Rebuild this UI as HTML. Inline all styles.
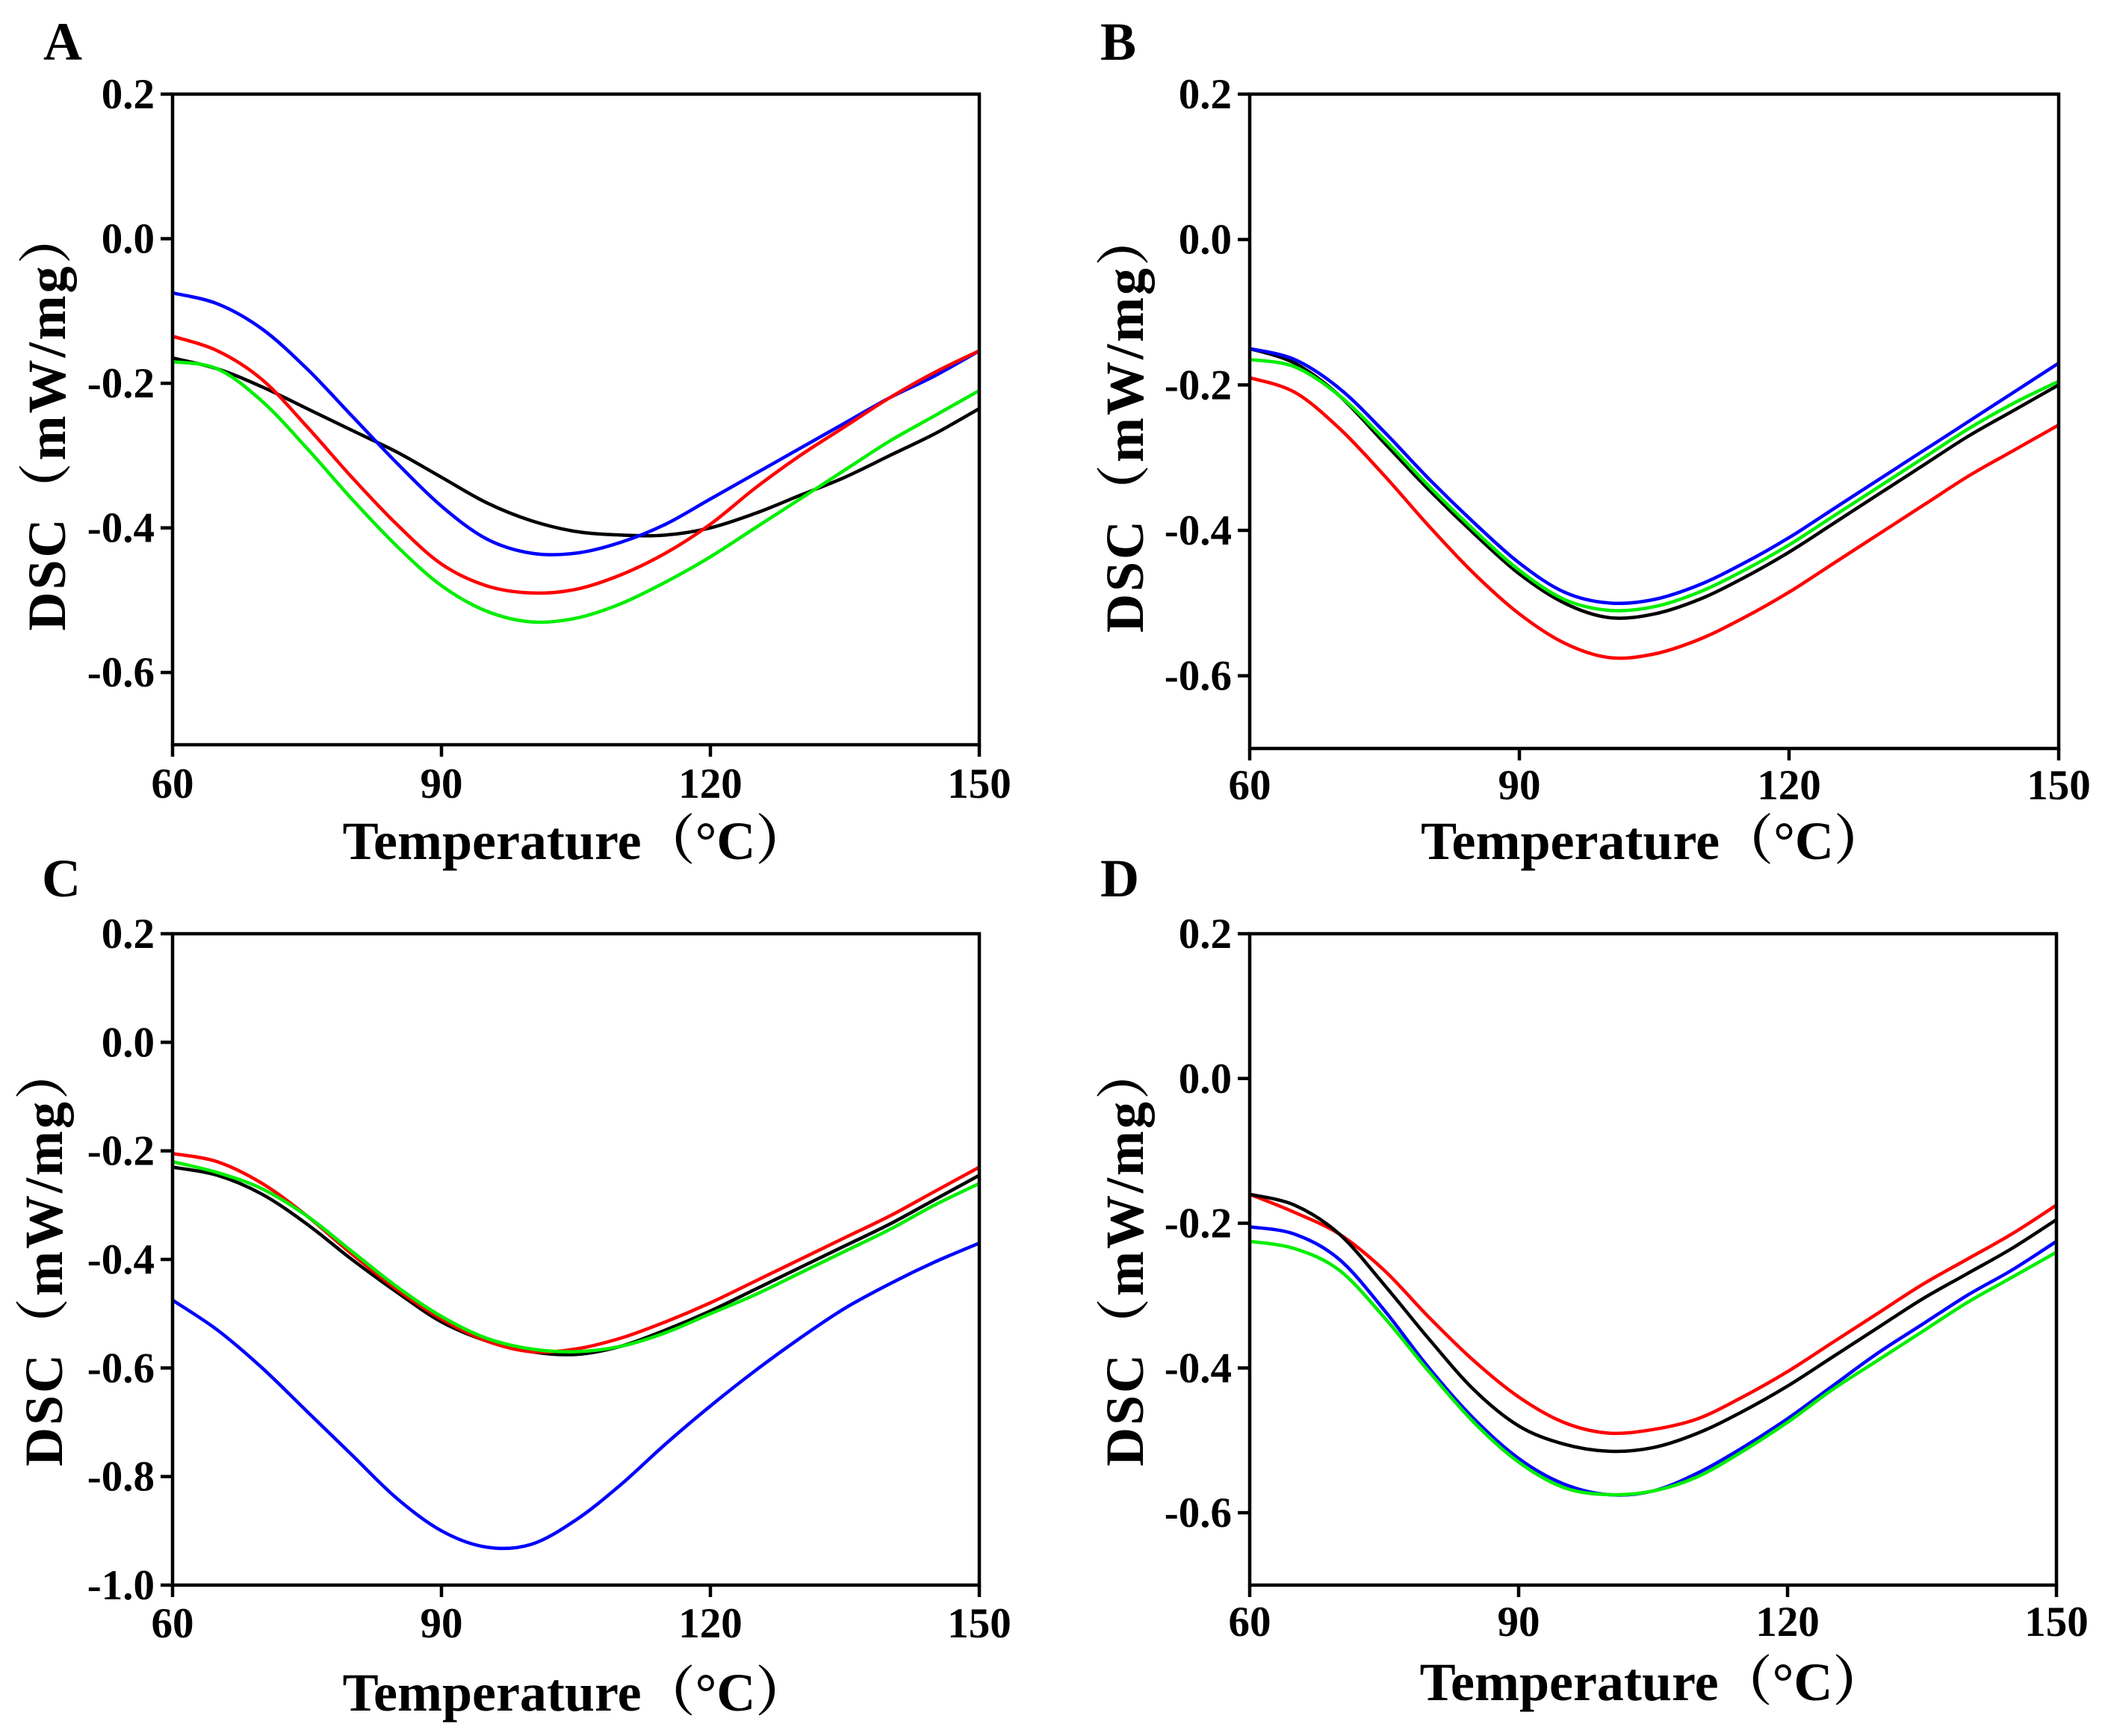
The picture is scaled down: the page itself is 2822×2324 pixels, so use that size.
<!DOCTYPE html>
<html><head><meta charset="utf-8">
<style>
html,body{margin:0;padding:0;background:#fff;}
svg{display:block;}
text{font-family:"Liberation Serif","Noto Serif CJK SC",serif;font-weight:bold;fill:#000;}
</style></head>
<body>
<svg id="fig" width="2822" height="2324" viewBox="0 0 2822 2324" xmlns="http://www.w3.org/2000/svg"></svg>
<script>
const temps = [60,65,70,75,80,85,90,95,100,105,110,115,120,125,130,135,140,145,150];
const xTicks = [60,90,120,150];
const yTicksABD = [0.2,0.0,-0.2,-0.4,-0.6];
const yTicksC = [0.2,0.0,-0.2,-0.4,-0.6,-0.8,-1.0];

const A_black = [-0.165,-0.18,-0.205,-0.235,-0.265,-0.295,-0.33,-0.365,-0.39,-0.405,-0.41,-0.41,-0.40,-0.38,-0.355,-0.33,-0.30,-0.27,-0.235];
const A_blue  = [-0.075,-0.09,-0.125,-0.18,-0.245,-0.31,-0.37,-0.415,-0.435,-0.435,-0.42,-0.395,-0.36,-0.325,-0.29,-0.255,-0.22,-0.19,-0.155];
const A_red   = [-0.135,-0.155,-0.195,-0.26,-0.33,-0.395,-0.45,-0.48,-0.49,-0.485,-0.465,-0.435,-0.395,-0.345,-0.30,-0.26,-0.22,-0.185,-0.155];
const A_green = [-0.17,-0.18,-0.225,-0.29,-0.36,-0.425,-0.48,-0.515,-0.53,-0.525,-0.505,-0.475,-0.44,-0.40,-0.36,-0.32,-0.28,-0.245,-0.21];

const B_blue  = [-0.15,-0.165,-0.205,-0.265,-0.33,-0.39,-0.445,-0.485,-0.50,-0.495,-0.475,-0.445,-0.41,-0.37,-0.33,-0.29,-0.25,-0.21,-0.17];
const B_black = [-0.15,-0.17,-0.215,-0.28,-0.345,-0.405,-0.46,-0.50,-0.52,-0.515,-0.495,-0.465,-0.43,-0.39,-0.35,-0.31,-0.27,-0.235,-0.20];
const B_green = [-0.165,-0.175,-0.215,-0.275,-0.34,-0.40,-0.455,-0.495,-0.51,-0.505,-0.485,-0.455,-0.42,-0.38,-0.34,-0.30,-0.26,-0.225,-0.195];
const B_red   = [-0.19,-0.21,-0.26,-0.325,-0.395,-0.46,-0.515,-0.555,-0.575,-0.57,-0.55,-0.52,-0.485,-0.445,-0.405,-0.365,-0.325,-0.29,-0.255];

const C_blue  = [-0.475,-0.53,-0.60,-0.68,-0.76,-0.84,-0.90,-0.93,-0.925,-0.88,-0.815,-0.74,-0.67,-0.605,-0.545,-0.49,-0.445,-0.405,-0.37];
const C_black = [-0.23,-0.245,-0.28,-0.335,-0.40,-0.46,-0.515,-0.55,-0.57,-0.575,-0.56,-0.53,-0.495,-0.455,-0.415,-0.375,-0.335,-0.29,-0.245];
const C_green = [-0.22,-0.24,-0.27,-0.32,-0.385,-0.45,-0.505,-0.545,-0.565,-0.57,-0.56,-0.535,-0.50,-0.465,-0.425,-0.385,-0.345,-0.30,-0.26];
const C_red   = [-0.205,-0.22,-0.26,-0.32,-0.39,-0.455,-0.51,-0.55,-0.57,-0.565,-0.545,-0.515,-0.48,-0.44,-0.40,-0.36,-0.32,-0.275,-0.23];

const D_blue  = [-0.205,-0.215,-0.25,-0.32,-0.40,-0.47,-0.525,-0.56,-0.575,-0.57,-0.545,-0.51,-0.47,-0.425,-0.38,-0.34,-0.30,-0.265,-0.225];
const D_green = [-0.225,-0.235,-0.265,-0.33,-0.405,-0.475,-0.53,-0.565,-0.575,-0.57,-0.55,-0.515,-0.475,-0.43,-0.39,-0.35,-0.31,-0.275,-0.24];
const D_black = [-0.16,-0.175,-0.215,-0.285,-0.36,-0.43,-0.48,-0.505,-0.515,-0.51,-0.49,-0.46,-0.425,-0.385,-0.345,-0.305,-0.27,-0.235,-0.195];
const D_red   = [-0.16,-0.185,-0.215,-0.265,-0.33,-0.39,-0.44,-0.475,-0.49,-0.485,-0.47,-0.44,-0.405,-0.365,-0.325,-0.285,-0.25,-0.215,-0.175];

const NS = "http://www.w3.org/2000/svg";
const svg = document.getElementById('fig');
function mk(tag, attrs, parent){
  const e = document.createElementNS(NS, tag);
  for (const k in attrs) e.setAttribute(k, attrs[k]);
  (parent||svg).appendChild(e);
  return e;
}
function smoothPath(pts){
  let d = "M" + pts[0][0].toFixed(1) + "," + pts[0][1].toFixed(1);
  for (let i=0;i<pts.length-1;i++){
    const p0 = pts[Math.max(0,i-1)], p1 = pts[i], p2 = pts[i+1], p3 = pts[Math.min(pts.length-1,i+2)];
    const c1x = p1[0]+(p2[0]-p0[0])/6, c1y = p1[1]+(p2[1]-p0[1])/6;
    const c2x = p2[0]-(p3[0]-p1[0])/6, c2y = p2[1]-(p3[1]-p1[1])/6;
    d += " C"+c1x.toFixed(1)+","+c1y.toFixed(1)+" "+c2x.toFixed(1)+","+c2y.toFixed(1)+" "+p2[0].toFixed(1)+","+p2[1].toFixed(1);
  }
  return d;
}
const panels = [
  {id:'a', letter:'A', L:231, R:1311, T:126, B:997, ymax:0.2, ymin:-0.7, yt:yTicksABD, lx:58, ly:80, xlabY:1068, titleY:1150, ytx:62,
   series:[['black',A_black,'#000000'],['blue',A_blue,'#0000ff'],['red',A_red,'#ff0000'],['green',A_green,'#00ee00']]},
  {id:'b', letter:'B', L:1673, R:2756, T:126, B:1002, ymax:0.2, ymin:-0.7, yt:yTicksABD, lx:1473, ly:80, xlabY:1070, titleY:1150, ytx:1505,
   series:[['red',B_red,'#ff0000'],['black',B_black,'#000000'],['green',B_green,'#00ee00'],['blue',B_blue,'#0000ff']]},
  {id:'c', letter:'C', L:231, R:1311, T:1250, B:2122, ymax:0.2, ymin:-1.0, yt:yTicksC, lx:56, ly:1200, xlabY:2192, titleY:2290, ytx:58,
   series:[['blue',C_blue,'#0000ff'],['black',C_black,'#000000'],['red',C_red,'#ff0000'],['green',C_green,'#00ee00']]},
  {id:'d', letter:'D', L:1673, R:2753, T:1250, B:2122, ymax:0.2, ymin:-0.7, yt:yTicksABD, lx:1473, ly:1200, xlabY:2190, titleY:2276, ytx:1505,
   series:[['red',D_red,'#ff0000'],['black',D_black,'#000000'],['blue',D_blue,'#0000ff'],['green',D_green,'#00ee00']]}
];
panels.forEach(p=>{
  const g = mk('g',{});
  
  
  const xs = t => p.L + (t-60)/(150-60)*(p.R-p.L);
  const ys = v => p.T + (p.ymax - v)/(p.ymax - p.ymin)*(p.B-p.T);
  p.series.forEach(s=>{
    const pts = temps.map((t,i)=>[xs(t), ys(s[1][i])]);
    const path = mk('path',{d:smoothPath(pts), fill:'none', stroke:s[2], 'stroke-width':4.5, 'stroke-linejoin':'round'}, g);
    
    
  });
  const fr = mk('rect',{x:p.L, y:p.T, width:p.R-p.L, height:p.B-p.T, fill:'none', stroke:'#000', 'stroke-width':4.5}, g);
  
  
  xTicks.forEach(t=>{
    const x = xs(t);
    const tk = mk('line',{x1:x, x2:x, y1:p.B, y2:p.B+16, stroke:'#000','stroke-width':4.5}, g);
    
    
    const tl = mk('text',{x:x, y:p.xlabY, 'text-anchor':'middle', 'font-size':57}, g);
    tl.textContent = t;
    
    
  });
  p.yt.forEach(v=>{
    const y = ys(v);
    const tk = mk('line',{x1:p.L-16, x2:p.L, y1:y, y2:y, stroke:'#000','stroke-width':4.5}, g);
    
    
    const tl = mk('text',{x:p.L-24, y:y+19, 'text-anchor':'end', 'font-size':57}, g);
    tl.textContent = (v<0?'-':'') + Math.abs(v).toFixed(1);
    
    
  });
  const xt = mk('text',{x:(p.L+p.R)/2, y:p.titleY, 'text-anchor':'middle', 'font-size':72}, g);
  xt.textContent = 'Temperature（°C）';
  
  
  const cy = (p.T+p.B)/2 + (p.id==='c'||p.id==='d' ? -6 : 0);
  const yt = mk('text',{x:0, y:0, 'text-anchor':'middle', 'font-size':72, 'letter-spacing':3, transform:'translate('+(p.ytx+25)+','+cy+') rotate(-90)'}, g);
  yt.textContent = 'DSC（mW/mg）';
  
  
  const lt = mk('text',{x:p.lx, y:p.ly, 'font-size':72}, g);
  lt.textContent = p.letter;
  
  
});
</script>
</body></html>
